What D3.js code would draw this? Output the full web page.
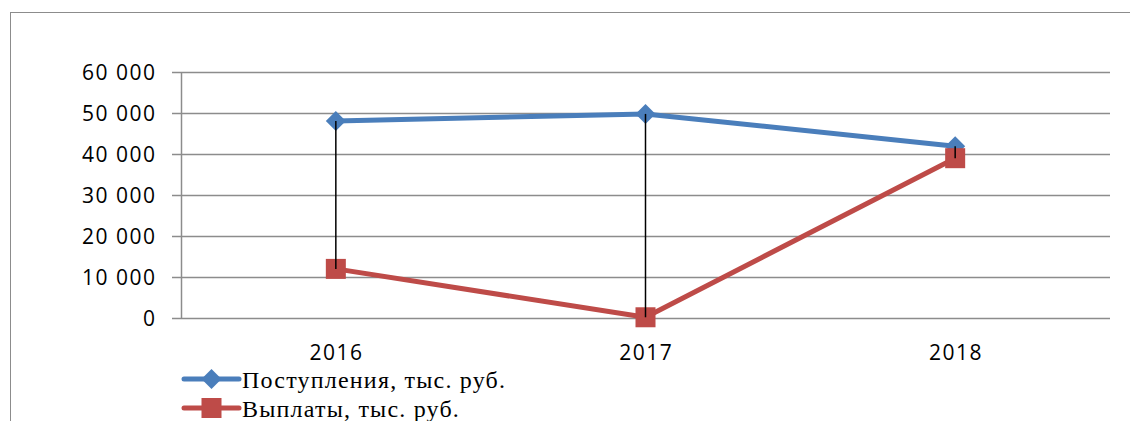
<!DOCTYPE html>
<html><head><meta charset="utf-8">
<script src="https://cdn.jsdelivr.net/npm/d3@7"></script>
<style>body{margin:0;background:#fff}svg{display:block}</style>
</head><body>
<svg id="c" width="1130" height="421"></svg>
<script>
const categories = ["2016", "2017", "2018"];
const incomeValues = [48200, 49900, 42000];
const paymentValues = [12100, 300, 39100];
const yTicks = [0, 10000, 20000, 30000, 40000, 50000, 60000];
const seriesNames = ["Поступления, тыс. руб.", "Выплаты, тыс. руб."];

const svg = d3.select("#c");
// outer frame
svg.append("rect").attr("x", 10.5).attr("y", 12.5).attr("width", 1130).attr("height", 430)
  .attr("fill", "none").attr("stroke", "#8c8c8c").attr("stroke-width", 1);

const plotLeft = 181, plotRight = 1110, plotTop = 72.5, plotBottom = 318.5;
const x = d3.scaleBand().domain(categories).range([plotLeft, plotRight]);
const y = d3.scaleLinear().domain([0, 60000]).range([plotBottom, plotTop]);
const fmt = v => d3.format(",")(v).replace(/,/g, " ");
const axisFont = "'Open Sans', sans-serif";

// gridlines
svg.append("g").selectAll("line").data(yTicks).join("line")
  .attr("x1", plotLeft - 9).attr("x2", plotRight)
  .attr("y1", d => y(d)).attr("y2", d => y(d))
  .attr("stroke", "#8c8c8c").attr("stroke-width", 1.5);

// y axis
const yAxis = svg.append("g").attr("transform", `translate(${plotLeft},0)`)
  .call(d3.axisLeft(y).tickValues(yTicks).tickFormat(fmt).tickSize(0).tickPadding(24.5));
yAxis.select(".domain").attr("stroke", "#8c8c8c").attr("stroke-width", 1.5);
yAxis.selectAll("text").attr("font-family", axisFont).attr("font-size", 21)
  .attr("letter-spacing", 1.5).attr("fill", "#000");

// x axis labels
const xAxis = svg.append("g").attr("transform", `translate(0,${plotBottom})`)
  .call(d3.axisBottom(x).tickSize(0).tickPadding(27));
xAxis.select(".domain").remove();
xAxis.selectAll("text").attr("font-family", axisFont).attr("font-size", 21)
  .attr("letter-spacing", 1.5).attr("dx", 0.75).attr("fill", "#000");

const cx = d => x(d) + x.bandwidth() / 2;
const line = d3.line().x(d => cx(d[0])).y(d => y(d[1]));
const blue = "#4a7ebb", red = "#be4b48";

svg.append("path").datum(categories.map((c, i) => [c, incomeValues[i]]))
  .attr("d", line).attr("fill", "none").attr("stroke", blue).attr("stroke-width", 5).attr("stroke-linejoin", "round");
svg.append("path").datum(categories.map((c, i) => [c, paymentValues[i]]))
  .attr("d", line).attr("fill", "none").attr("stroke", red).attr("stroke-width", 5).attr("stroke-linejoin", "round");

const diamond = (s) => `M0,${-s}L${s},0L0,${s}L${-s},0Z`;
svg.append("g").selectAll("path").data(categories).join("path")
  .attr("transform", (d, i) => `translate(${cx(d)},${y(incomeValues[i])})`)
  .attr("d", diamond(10)).attr("fill", blue);
svg.append("g").selectAll("rect").data(categories).join("rect")
  .attr("x", d => cx(d) - 10).attr("y", (d, i) => y(paymentValues[i]) - 10)
  .attr("width", 20).attr("height", 20).attr("fill", red);

// high-low lines
svg.append("g").selectAll("line").data(categories).join("line")
  .attr("x1", cx).attr("x2", cx)
  .attr("y1", (d, i) => y(incomeValues[i])).attr("y2", (d, i) => y(paymentValues[i]))
  .attr("stroke", "#000").attr("stroke-width", 1.5);

// legend
const legend = svg.append("g");
const colors = [blue, red];
seriesNames.forEach((name, i) => {
  const ly = 379 + i * 29;
  legend.append("line").attr("x1", 184).attr("x2", 239).attr("y1", ly).attr("y2", ly)
    .attr("stroke", colors[i]).attr("stroke-width", 5).attr("stroke-linecap", "round");
  if (i === 0) legend.append("path").attr("transform", `translate(211.5,${ly})`).attr("d", diamond(10)).attr("fill", colors[i]);
  else legend.append("rect").attr("x", 201.5).attr("y", ly - 10).attr("width", 20).attr("height", 20).attr("fill", colors[i]);
  legend.append("text").attr("x", 242).attr("y", ly + 8.5).text(name)
    .attr("font-family", "'Liberation Serif', 'Times New Roman', serif").attr("font-size", 24)
    .attr("letter-spacing", 1.2).attr("fill", "#000");
});
</script>
</body></html>
